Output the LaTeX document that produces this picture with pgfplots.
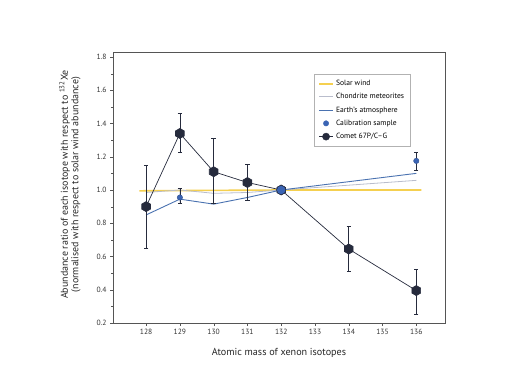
\documentclass[border=0pt]{standalone}
\usepackage{pgfplots}
\pgfplotsset{compat=1.18}
\usepackage{fontspec}
\setmainfont{PT Sans}
\definecolor{comet}{HTML}{262B3D}
\definecolor{calib}{HTML}{3A64B4}
\definecolor{earth}{HTML}{4A72B0}
\definecolor{chond}{HTML}{B9BDCC}
\definecolor{solar}{HTML}{F5D050}
\definecolor{axgray}{HTML}{555555}
\pgfdeclareplotmark{hex}{%
  \pgfpathmoveto{\pgfqpointpolar{90}{\pgfplotmarksize}}%
  \pgfpathlineto{\pgfqpointpolar{150}{\pgfplotmarksize}}%
  \pgfpathlineto{\pgfqpointpolar{210}{\pgfplotmarksize}}%
  \pgfpathlineto{\pgfqpointpolar{270}{\pgfplotmarksize}}%
  \pgfpathlineto{\pgfqpointpolar{330}{\pgfplotmarksize}}%
  \pgfpathlineto{\pgfqpointpolar{30}{\pgfplotmarksize}}%
  \pgfpathclose\pgfusepathqfillstroke}
\begin{document}
\begin{tikzpicture}
\useasboundingbox (0,0) rectangle (516bp,384bp);
\begin{axis}[
  at={(113bp,61bp)}, anchor=south west,
  width=332bp, height=271bp, scale only axis,
  xmin=127.02, xmax=136.85, ymin=0.2, ymax=1.83,
  xtick={128,129,...,136},
  ytick={0.2,0.4,...,1.8},
  minor y tick num=1,
  yticklabel style={/pgf/number format/.cd,fixed,fixed zerofill,precision=1},
  /pgf/number format/assume math mode=true,
  tick label style={font=\fontsize{7.6}{9}\selectfont, text=black!80},
  axis line style={axgray},
  tick style={axgray},
  major tick length=3bp, minor tick length=2bp,
  tick align=outside, xtick pos=bottom, ytick pos=left,
  xlabel={Atomic mass of xenon isotopes},
  xlabel style={font=\fontsize{10.2}{12}\selectfont, text=black!85, yshift=-6bp},
  ylabel={Abundance ratio of each isotope with respect to \textsuperscript{132}Xe\\(normalised with respect to solar wind abundance)},
  every axis y label/.style={at={(axis description cs:-0.1295,0.511)}, rotate=90, anchor=center},
  ylabel style={font=\fontsize{10}{10.6}\selectfont, align=center, text=black!85},
  legend style={at={(0.605,0.919)}, anchor=north west, font=\fontsize{7.6}{8.5}\selectfont,
    draw=black!30, row sep=2.4bp, inner xsep=4bp, inner ysep=4bp, cells={anchor=west}},
  legend cell align=left,
]
\addplot[solar, line width=1.6bp, forget plot] coordinates {(127.8,0.995) (132,1.0) (136.15,1.0)};
\addplot[chond, line width=0.8bp, forget plot] coordinates {(128,0.985) (129,1.0) (130,0.98) (131,0.985) (132,1.0) (136,1.058)};
\addplot[earth, line width=0.9bp, forget plot] coordinates {(128,0.85) (129,0.945) (130,0.915) (131,0.955) (132,1.0) (136,1.10)};
\addplot[only marks, mark=*, mark size=2.7bp, draw=calib!80!black, fill=calib, forget plot,
  error bars/.cd, y dir=both, y explicit, error bar style={comet, line width=0.6bp}, error mark options={comet, mark size=2.2bp, rotate=90}]
  coordinates {(129,0.955) += (0,0.055) -= (0,0.035) (136,1.175) += (0,0.052) -= (0,0.058)};
\addplot[comet, line width=0.7bp, mark=hex, mark size=5bp, mark options={fill=comet, draw=comet}, forget plot,
  error bars/.cd, y dir=both, y explicit, error bar style={comet, line width=0.6bp}, error mark options={comet, mark size=2.2bp, rotate=90}]
  coordinates {(128,0.90) += (0,0.25) -= (0,0.25)
               (129,1.34) += (0,0.12) -= (0,0.11)
               (130,1.11) += (0,0.20) -= (0,0.19)
               (131,1.045) += (0,0.11) -= (0,0.105)
               (132,1.0) += (0,0) -= (0,0)
               (134,0.645) += (0,0.135) -= (0,0.135)
               (136,0.395) += (0,0.13) -= (0,0.14)};
\addplot[only marks, mark=*, mark size=4.6bp, draw=comet, fill=calib, forget plot] coordinates {(132,1.0)};
\addlegendimage{legend image code/.code={\draw[solar, line width=2bp] (0bp,0bp) -- (14bp,0bp);}}
\addlegendentry{Solar wind}
\addlegendimage{legend image code/.code={\draw[chond, line width=1bp] (0bp,0bp) -- (14bp,0bp);}}
\addlegendentry{Chondrite meteorites}
\addlegendimage{legend image code/.code={\draw[earth, line width=1bp] (0bp,0bp) -- (14bp,0bp);}}
\addlegendentry{Earth's atmosphere}
\addlegendimage{legend image code/.code={\fill[calib] (7bp,0bp) circle (2.7bp);}}
\addlegendentry{Calibration sample}
\addlegendimage{legend image code/.code={\draw[comet, line width=0.8bp] (0bp,0bp) -- (14bp,0bp); \fill[comet] (7bp,0bp) circle (3.6bp);}}
\addlegendentry{Comet 67P/C--G}
\end{axis}
\end{tikzpicture}
\end{document}
